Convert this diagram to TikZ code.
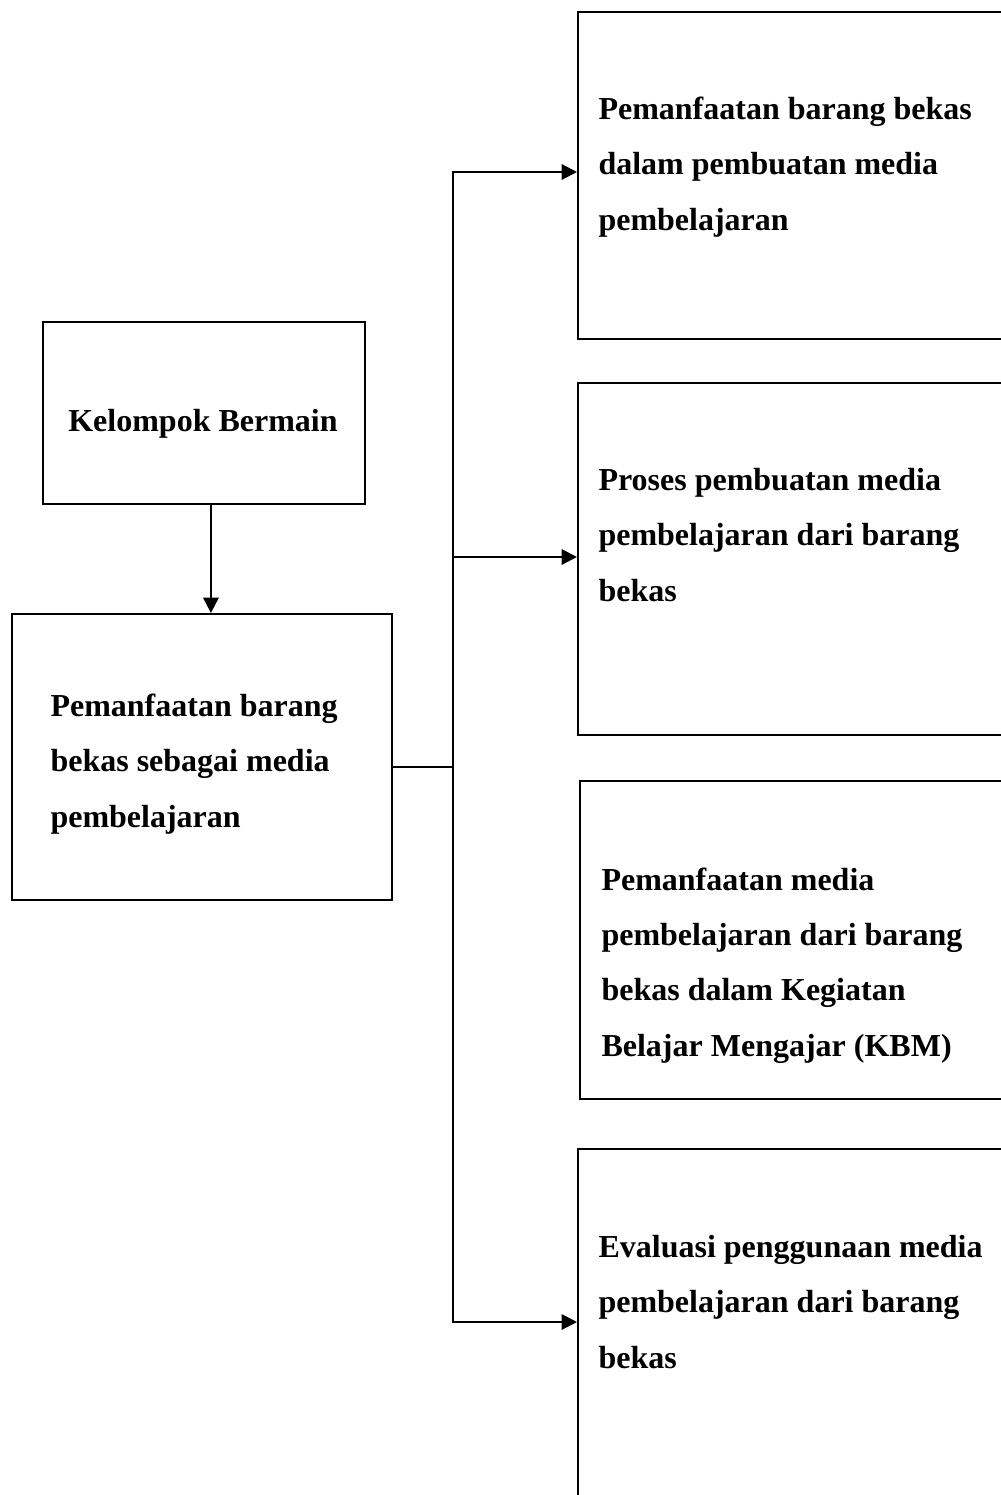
\documentclass[tikz,border=0pt]{standalone}
\usepackage{fontspec}
\setmainfont{Liberation Serif}
\usetikzlibrary{arrows.meta}

\begin{document}
\begin{tikzpicture}[x=0.375pt, y={(0pt,-0.375pt)},
    box/.style={draw, rectangle, line width=0.75pt, inner sep=0pt, anchor=north west},
    txt/.style={inner sep=0pt, align=left, anchor=base west,
      font=\fontsize{12pt}{20.75pt}\selectfont\bfseries},
    link/.style={line width=0.75pt},
    arr/.style={link, -{Triangle[length=5.8pt, width=5.8pt]}}]
      \useasboundingbox (0,0) rectangle (1001,1495);

      % Left column: the group and the main topic
      % (text nodes sit on the baseline of their last line)
      \node[box, minimum width=120.75pt, minimum height=68.25pt] (kb) at (42,321) {};
      \node[txt, anchor=base] (kbt) at (203,431) {Kelompok Bermain};

      \node[box, minimum width=142.5pt, minimum height=107.25pt] (pbb) at (11,613) {};
      \node[txt] (pbbt) at (50,827) {Pemanfaatan barang\\bekas sebagai media\\pembelajaran};

      % Right column: four boxes, cut off at the page edge
      \node[box, minimum width=161.25pt, minimum height=122.625pt] (r1) at (577,11) {};
      \node[txt] (r1t) at (598,230) {Pemanfaatan barang bekas\\dalam pembuatan media\\pembelajaran};

      \node[box, minimum width=161.25pt, minimum height=132pt] (r2) at (577,382) {};
      \node[txt] (r2t) at (598,601) {Proses pembuatan media\\pembelajaran dari barang\\bekas};

      \node[box, minimum width=160.5pt, minimum height=119.25pt] (r3) at (579,780) {};
      \node[txt] (r3t) at (601,1056) {Pemanfaatan media\\pembelajaran dari barang\\bekas dalam Kegiatan\\Belajar Mengajar (KBM)};

      \node[box, minimum width=161.25pt, minimum height=135pt] (r4) at (577,1148) {};
      \node[txt] (r4t) at (598,1368) {Evaluasi penggunaan media\\pembelajaran dari barang\\bekas};

      % Connectors
      \draw[arr] ([xshift=2.6pt]kb.south) -- ([xshift=2.6pt]kb.south |- pbb.north);

      \coordinate (jn) at (453,767);
      \coordinate (b1) at (453,172);
      \coordinate (b2) at (453,557);
      \coordinate (b4) at (453,1322);

      \draw[link] (pbb.east |- jn) -- (jn);
      \draw[arr] (b2) -- (b1) -- (b1 -| r1.west);
      \draw[arr] (b2) -- (b2 -| r2.west);
      \draw[arr] (b2) -- (b4) -- (b4 -| r4.west);
    \end{tikzpicture}
\end{document}
